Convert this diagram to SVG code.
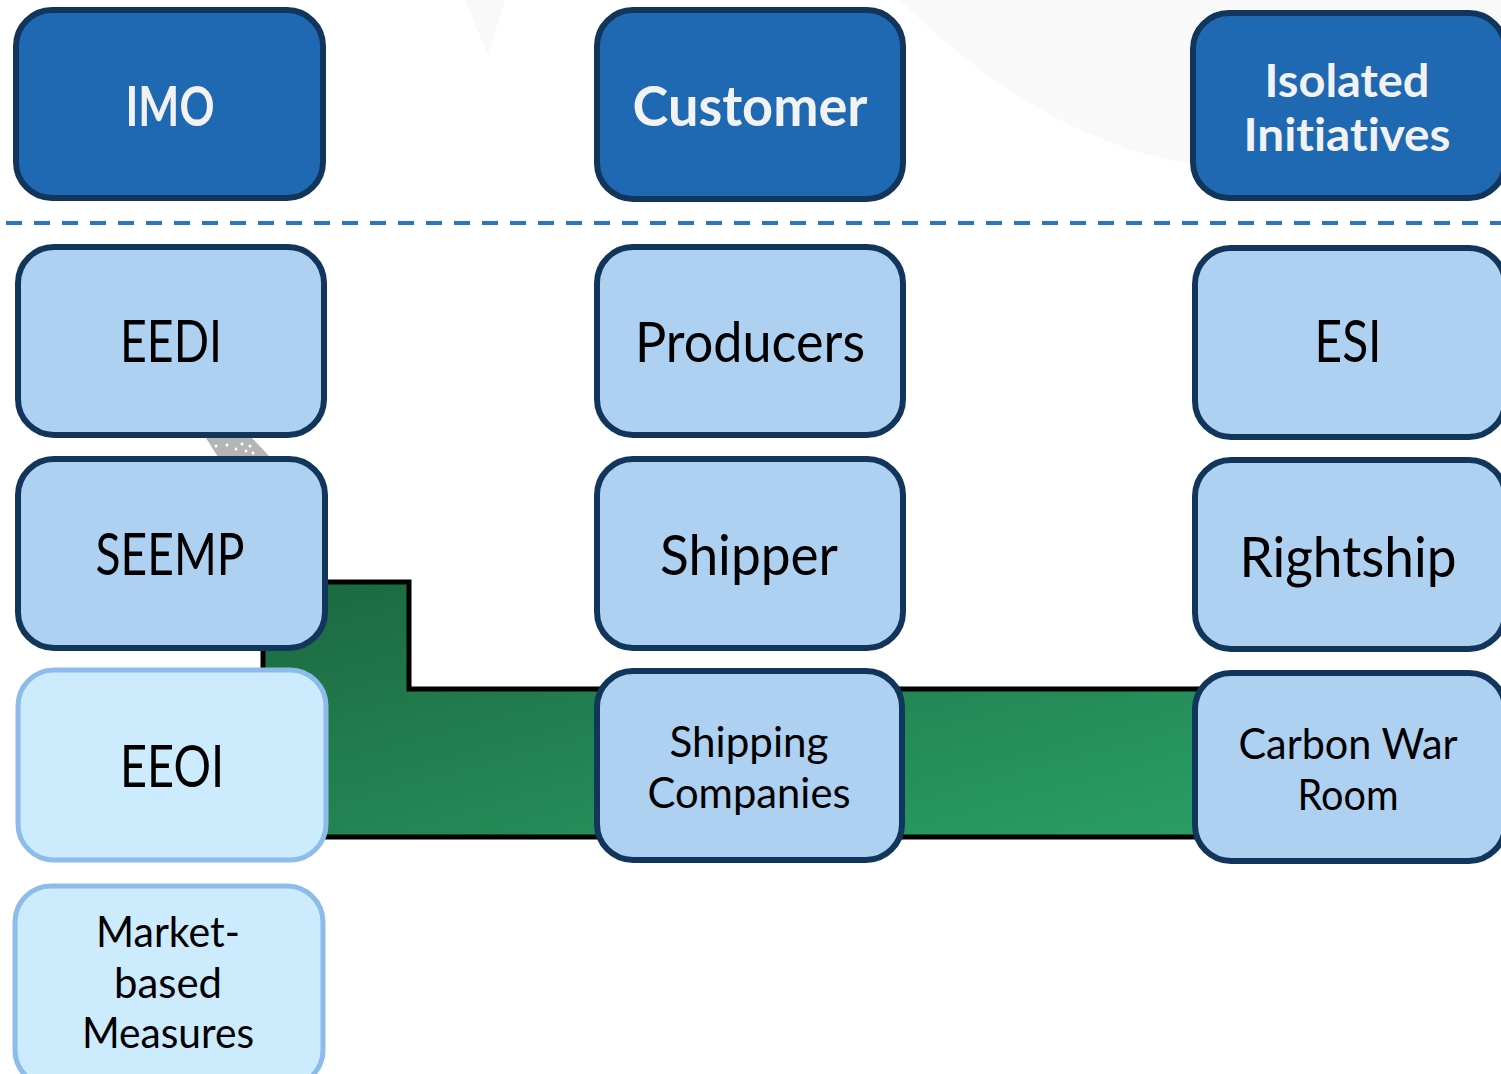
<svg xmlns="http://www.w3.org/2000/svg" width="1501" height="1074" viewBox="0 0 1501 1074">
<defs>
<linearGradient id="gr" x1="0" y1="0" x2="1" y2="1">
<stop offset="0" stop-color="#1B6840"/>
<stop offset="1" stop-color="#2A9E64"/>
</linearGradient>
<style>
.top{fill:#1F69B2;stroke:#12355B;stroke-width:6}
.mid{fill:#AED0F1;stroke:#12355B;stroke-width:6}
.lt{fill:#CCEBFD;stroke:#8DBCEB;stroke-width:5}
text{font-family:Lato,"Open Sans",sans-serif;text-anchor:middle;font-variant-ligatures:none}
.tw{fill:#F2F2F2;font-weight:bold}
.tb{fill:#000}
</style>
</defs>
<rect width="1501" height="1074" fill="#fff"/>
<g id="background">
<path d="M900 0 C970 70 1070 145 1195 165 L1501 165 L1501 0 Z" fill="#F9F9F9"/>
<path d="M465 0 L505 0 L488 55 Z" fill="#F9F9F9"/>
<polygon points="206,438 252,438 270,457 218,457" fill="#B5B5B5"/>
<g fill="#fff"><circle cx="216" cy="446" r="1.5"/><circle cx="227" cy="445" r="1.5"/><circle cx="236" cy="449" r="1.5"/><circle cx="242" cy="444" r="1.5"/><circle cx="246" cy="451" r="1.5"/><circle cx="253" cy="453" r="1.5"/><circle cx="250" cy="446" r="1.5"/></g>
</g>
<g id="connectors">
<polygon points="263,582 409,582 409,689 1200,689 1200,837 263,837" fill="url(#gr)" stroke="#000" stroke-width="5"/>
<line x1="6" y1="223" x2="1501" y2="223" stroke="#2E75C0" stroke-width="4" stroke-dasharray="16,12"/>
</g>
<g id="imo"><rect class="top" x="16" y="10" width="307" height="188" rx="36"/><text class="tw" x="170" y="126" font-size="56" textLength="89" lengthAdjust="spacingAndGlyphs">IMO</text></g>
<g id="customer"><rect class="top" x="597" y="10" width="306" height="189" rx="36"/><text class="tw" x="750" y="126" font-size="56" textLength="235" lengthAdjust="spacingAndGlyphs">Customer</text></g>
<g id="isolated"><rect class="top" x="1193" y="13" width="312" height="185" rx="36"/><text class="tw" x="1347" y="97" font-size="46" textLength="165" lengthAdjust="spacingAndGlyphs">Isolated</text><text class="tw" x="1347" y="151" font-size="46" textLength="207" lengthAdjust="spacingAndGlyphs">Initiatives</text></g>
<g id="eedi"><rect class="mid" x="18" y="247" width="306" height="188" rx="36"/><text class="tb" x="171" y="362" font-size="58" textLength="102" lengthAdjust="spacingAndGlyphs">EEDI</text></g>
<g id="producers"><rect class="mid" x="597" y="247" width="306" height="188" rx="36"/><text class="tb" x="750" y="362" font-size="56" textLength="230" lengthAdjust="spacingAndGlyphs">Producers</text></g>
<g id="esi"><rect class="mid" x="1195" y="248" width="310" height="189" rx="36"/><text class="tb" x="1348" y="362" font-size="58" textLength="67" lengthAdjust="spacingAndGlyphs">ESI</text></g>
<g id="seemp"><rect class="mid" x="18" y="459" width="307" height="189" rx="36"/><text class="tb" x="170" y="575" font-size="58" textLength="149" lengthAdjust="spacingAndGlyphs">SEEMP</text></g>
<g id="shipper"><rect class="mid" x="597" y="459" width="306" height="189" rx="36"/><text class="tb" x="749" y="575" font-size="56" textLength="178" lengthAdjust="spacingAndGlyphs">Shipper</text></g>
<g id="rightship"><rect class="mid" x="1195" y="460" width="310" height="189" rx="36"/><text class="tb" x="1348" y="577" font-size="56" textLength="217" lengthAdjust="spacingAndGlyphs">Rightship</text></g>
<g id="eeoi"><rect class="lt" x="18" y="670" width="308" height="190" rx="36"/><text class="tb" x="172" y="787" font-size="58" textLength="104" lengthAdjust="spacingAndGlyphs">EEOI</text></g>
<g id="shipping"><rect class="mid" x="597" y="671" width="305" height="189" rx="36"/><text class="tb" x="749" y="757" font-size="43" textLength="159" lengthAdjust="spacingAndGlyphs">Shipping</text><text class="tb" x="749" y="808" font-size="43" textLength="203" lengthAdjust="spacingAndGlyphs">Companies</text></g>
<g id="carbon"><rect class="mid" x="1195" y="673" width="310" height="188" rx="36"/><text class="tb" x="1348" y="759" font-size="43" textLength="219" lengthAdjust="spacingAndGlyphs">Carbon War</text><text class="tb" x="1348" y="810" font-size="43" textLength="101" lengthAdjust="spacingAndGlyphs">Room</text></g>
<g id="market"><rect class="lt" x="15" y="886" width="308" height="200" rx="36"/><text class="tb" x="168" y="947" font-size="43" textLength="144" lengthAdjust="spacingAndGlyphs">Market-</text><text class="tb" x="168" y="998" font-size="43" textLength="108" lengthAdjust="spacingAndGlyphs">based</text><text class="tb" x="168" y="1048" font-size="43" textLength="172" lengthAdjust="spacingAndGlyphs">Measures</text></g>
</svg>
